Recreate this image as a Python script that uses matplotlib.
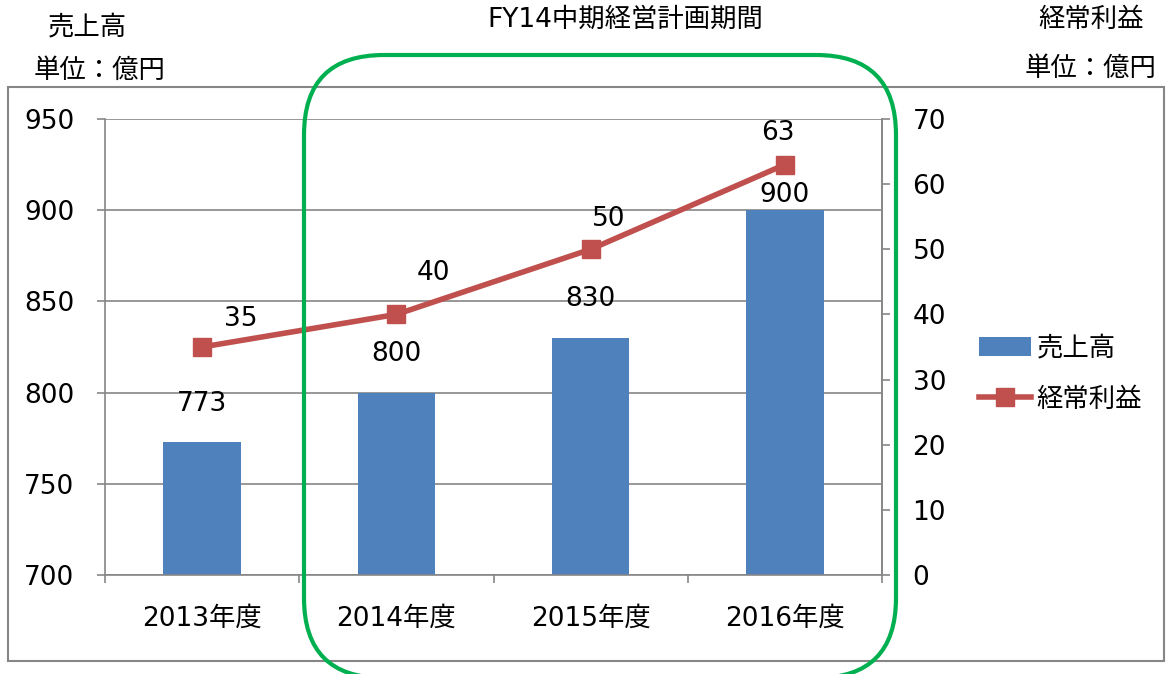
import matplotlib
matplotlib.use("Agg")
import matplotlib.pyplot as plt
from matplotlib.patches import FancyBboxPatch, Rectangle, Patch
from matplotlib.lines import Line2D
from matplotlib.transforms import IdentityTransform

plt.rcParams['font.family'] = ['DejaVu Sans', 'Noto Sans CJK JP']

categories = ["2013年度", "2014年度", "2015年度", "2016年度"]
sales = [773, 800, 830, 900]
profit = [35, 40, 50, 63]
left_ticks = [700, 750, 800, 850, 900, 950]
right_ticks = [0, 10, 20, 30, 40, 50, 60, 70]

BLUE = "#4F81BD"
RED = "#C0504D"
GRAY = "#868686"
GREEN = "#00B050"
FS = 19

W, H = 1169, 674
fig = plt.figure(figsize=(W / 100, H / 100), dpi=100)

def px(x0, y0, x1, y1):
    # pixel box (top-left origin) -> figure fraction [l, b, w, h]
    return [x0 / W, 1 - y1 / H, (x1 - x0) / W, (y1 - y0) / H]

ax = fig.add_axes(px(105, 119, 882, 575))
ax2 = ax.twinx()

x = list(range(len(categories)))
ax.bar(x, [s - 700 for s in sales], bottom=700, width=0.4, color=BLUE, zorder=2)
ax.set_xlim(-0.5, 3.5)
ax.set_ylim(left_ticks[0], left_ticks[-1])
ax.set_yticks(left_ticks)
ax.yaxis.grid(True, color=GRAY, lw=1.2, zorder=0)
ax.set_axisbelow(True)
ax.set_xticks(x)
ax.set_xticklabels(categories, fontsize=FS)
ax.set_xticks([-0.5, 0.5, 1.5, 2.5, 3.5], minor=True)
ax.tick_params(axis='x', which='major', length=0, pad=22)
ax.tick_params(axis='x', which='minor', length=6, width=1.2, color=GRAY, direction='out')
ax.tick_params(axis='y', length=6, width=1.2, color=GRAY, labelsize=FS, pad=16)
ax.spines['top'].set_visible(False)
for s in ['left', 'bottom', 'right']:
    ax.spines[s].set_color(GRAY)
    ax.spines[s].set_linewidth(1.2)

ax2.plot(x, profit, color=RED, lw=4, marker='s', markersize=13, zorder=5)
ax2.set_ylim(right_ticks[0], right_ticks[-1])
ax2.set_yticks(right_ticks)
ax2.tick_params(axis='y', length=6, width=1.2, color=GRAY, labelsize=FS, pad=16)
for s in ['top', 'left', 'bottom']:
    ax2.spines[s].set_visible(False)
ax2.spines['right'].set_color(GRAY)
ax2.spines['right'].set_linewidth(1.2)

# data labels (offsets in points)
bar_offsets = [(0, 27), (0, 28), (0, 28), (0, 11)]
for xi, v, off in zip(x, sales, bar_offsets):
    ax.annotate(str(v), (xi, v), xytext=off, textcoords='offset points',
                ha='center', va='center', fontsize=FS)
line_offsets = [(28, 20), (27, 30), (13, 22), (-5, 23)]
for xi, v, off in zip(x, profit, line_offsets):
    ax2.annotate(str(v), (xi, v), xytext=off, textcoords='offset points',
                 ha='center', va='center', fontsize=FS)

# legend
handles = [Patch(facecolor=BLUE, edgecolor='none'),
           Line2D([], [], color=RED, lw=4, marker='s', markersize=13)]
leg = fig.legend(handles, ["売上高", "経常利益"], loc='upper left',
                 bbox_to_anchor=(968 / W, 1 - 325 / H), frameon=False,
                 fontsize=FS, handlelength=2.0, handletextpad=0.2,
                 labelspacing=0.95, borderaxespad=0)

# outer border
fig.patches.append(Rectangle((8, H - 661), 1156, 574, transform=IdentityTransform(),
                             fill=False, edgecolor=GRAY, lw=1.5, zorder=0))
# green rounded rectangle
R = 80
fig.patches.append(FancyBboxPatch((304 + R, -4 + R), 592 - 2 * R, 623 - 2 * R,
                                  boxstyle="round,pad=%d" % R, transform=IdentityTransform(),
                                  fill=False, edgecolor=GREEN, lw=3, zorder=10))

# titles
fig.text(87 / W, 1 - 27 / H, "売上高", ha='center', va='center', fontsize=FS)
fig.text(100 / W, 1 - 71 / H, "単位：億円", ha='center', va='center', fontsize=FS)
fig.text(625 / W, 1 - 20 / H, "FY14中期経営計画期間", ha='center', va='center', fontsize=FS)
fig.text(1091 / W, 1 - 20 / H, "経常利益", ha='center', va='center', fontsize=FS)
fig.text(1091 / W, 1 - 69 / H, "単位：億円", ha='center', va='center', fontsize=FS)

fig.savefig("out.png", dpi=100)
